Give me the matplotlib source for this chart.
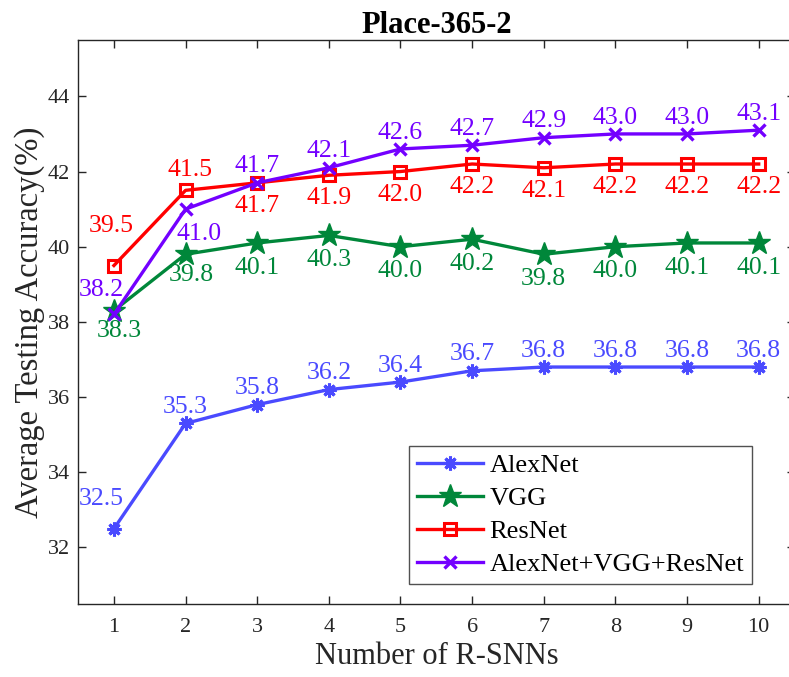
import matplotlib.pyplot as plt
import numpy as np

plt.rcParams['font.family'] = ['Liberation Serif', 'DejaVu Serif']

n_models = [1, 2, 3, 4, 5, 6, 7, 8, 9, 10]
alexnet = [32.5, 35.3, 35.8, 36.2, 36.4, 36.7, 36.8, 36.8, 36.8, 36.8]
vgg = [38.3, 39.8, 40.1, 40.3, 40.0, 40.2, 39.8, 40.0, 40.1, 40.1]
resnet = [39.5, 41.5, 41.7, 41.9, 42.0, 42.2, 42.1, 42.2, 42.2, 42.2]
combined = [38.2, 41.0, 41.7, 42.1, 42.6, 42.7, 42.9, 43.0, 43.0, 43.1]

c_alex = '#4a4aff'
c_vgg = '#00873a'
c_res = '#ff0000'
c_comb = '#7300ff'
txt = '#262626'

fig = plt.figure(figsize=(7.89, 6.77), dpi=100)
ax = fig.add_axes([0.099, 0.108, 0.908, 0.833])

ax.plot(n_models, alexnet, color=c_alex, lw=2.4, marker=(8, 2, 0), ms=10, mew=2.2,
        label='AlexNet')
ax.plot(n_models, vgg, color=c_vgg, lw=2.4, marker='*', ms=17, label='VGG')
ax.plot(n_models, resnet, color=c_res, lw=2.4, marker='s', ms=9, mew=2.2,
        mfc='none', label='ResNet')
ax.plot(n_models, combined, color=c_comb, lw=2.4, marker='x', ms=8, mew=2.4,
        label='AlexNet+VGG+ResNet')

fs = 18.5
UP, DN = 7.5, -22  # baseline offsets (points) for labels above / below a point


def annotate(xs, ys, color, offsets):
    for x, y, (dx, dy) in zip(xs, ys, offsets):
        ax.annotate(f'{y:.1f}', (x, y), xytext=(dx, dy), textcoords='offset points',
                    ha='center', va='baseline', color=color, fontsize=fs)


annotate(n_models, alexnet, c_alex, [(-9, 17)] + [(0, UP)] * 9)
annotate(n_models, vgg, c_vgg, [(4, -19), (4, -19)] + [(0, DN)] * 8)
annotate(n_models, resnet, c_res, [(-2, 24), (3, 10)] + [(0, DN + 1)] * 8)
annotate(n_models, combined, c_comb, [(-9, 13), (10, DN)] + [(0, UP)] * 8)

ax.set_xlim(0.5, 10.5)
ax.set_ylim(30.5, 45.5)
ax.set_xticks(n_models)
ax.set_yticks(np.arange(32, 45, 2))
ax.tick_params(direction='in', top=True, right=True, length=6, width=1,
               labelsize=16, labelcolor=txt, color=txt)
ax.tick_params(axis='x', pad=10)
ax.tick_params(axis='y', pad=6)
for s in ax.spines.values():
    s.set_color(txt)
    s.set_linewidth(1)

ax.set_xlabel('Number of R-SNNs', fontsize=22, color=txt, labelpad=4)
ax.set_ylabel('Average Testing Accuracy(%)', fontsize=23.5, color=txt, labelpad=2)
ax.set_title('Place-365-2', fontsize=22, fontweight='bold', pad=5)

leg = ax.legend(loc='lower left', bbox_to_anchor=(0.462, 0.035), fontsize=19,
                frameon=True, fancybox=False, edgecolor=txt, handlelength=2.5,
                borderpad=0.3, labelspacing=0.36, handletextpad=0.25,
                borderaxespad=0)
leg.get_frame().set_linewidth(1)

fig.savefig('out.png', dpi=100)
